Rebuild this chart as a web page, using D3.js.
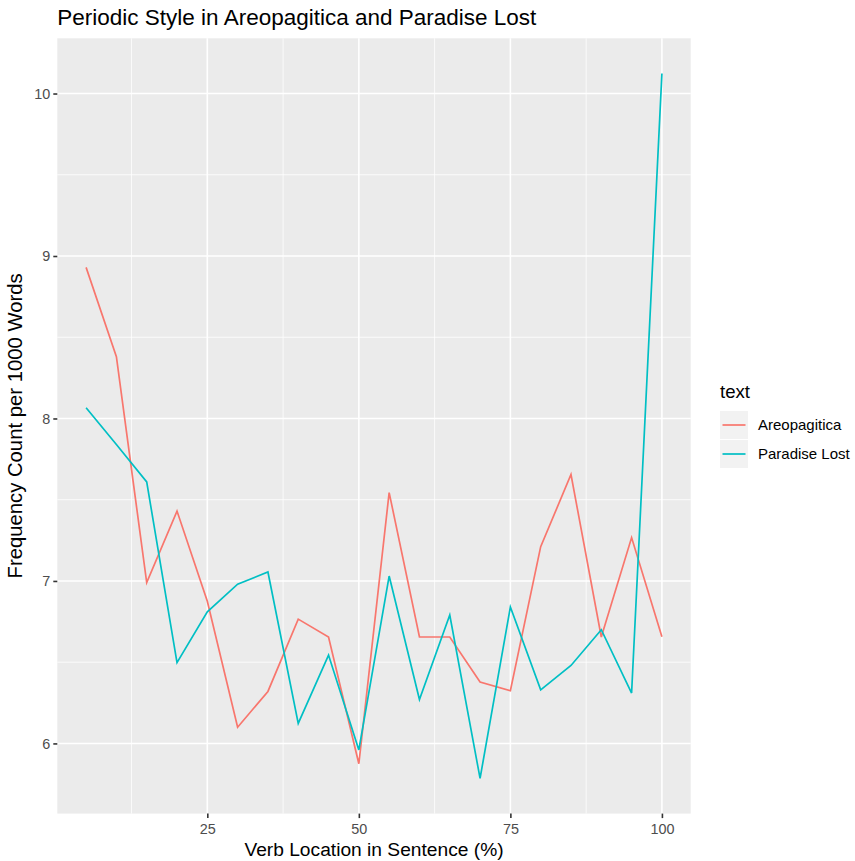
<!DOCTYPE html>
<html>
<head>
<meta charset="utf-8">
<script src="https://cdn.jsdelivr.net/npm/d3@7"></script>
<style>
  body { margin: 0; background: #fff; }
  svg { display: block; font-family: "Liberation Sans", Arial, sans-serif; }
</style>
</head>
<body>
<script>
// Données
const positions = [5, 10, 15, 20, 25, 30, 35, 40, 45, 50, 55, 60, 65, 70, 75, 80, 85, 90, 95, 100];
const areopagitica = [8.93, 8.38, 6.99, 7.43, 6.875, 6.10, 6.32, 6.765, 6.655, 5.875,
                      7.544, 6.655, 6.655, 6.378, 6.324, 7.211, 7.655, 6.655, 7.267, 6.657];
const paradiseLost = [8.066, 7.84, 7.61, 6.497, 6.81, 6.98, 7.055, 6.123, 6.544, 5.96,
                      7.03, 6.27, 6.79, 5.785, 6.84, 6.33, 6.48, 6.70, 6.31, 10.123];
const seriesNames = ['Areopagitica', 'Paradise Lost'];
const xTicks = [25, 50, 75, 100];
const yTicks = [6, 7, 8, 9, 10];

// Paramètres
const width = 855;
const height = 861;
const margin = { top: 38.3, right: 164.3, bottom: 47.4, left: 57.3 };
const colors = ['#F8766D', '#00BFC4'];

const series = seriesNames.map((name, i) => ({
  name,
  color: colors[i],
  values: positions.map((p, j) => ({ x: p, y: [areopagitica, paradiseLost][i][j] }))
}));

// expansion 5% comme ggplot
const expand = (lo, hi) => { const d = (hi - lo) * 0.05; return [lo - d, hi + d]; };
const allY = areopagitica.concat(paradiseLost);

const x = d3.scaleLinear()
  .domain(expand(d3.min(positions), d3.max(positions)))
  .range([margin.left, width - margin.right]);

const y = d3.scaleLinear()
  .domain(expand(d3.min(allY), d3.max(allY)))
  .range([height - margin.bottom, margin.top]);

const svg = d3.select('body')
  .append('svg')
  .attr('width', width)
  .attr('height', height);

// Fond du panneau
svg.append('rect')
  .attr('x', margin.left)
  .attr('y', margin.top)
  .attr('width', width - margin.right - margin.left)
  .attr('height', height - margin.bottom - margin.top)
  .attr('fill', '#EBEBEB');

// Grille mineure
const xMinor = xTicks.map(t => t - 12.5).filter(t => t > x.domain()[0]);
const yMinor = yTicks.map(t => t + 0.5).concat([5.5]).filter(t => t > y.domain()[0] && t < y.domain()[1]);

svg.append('g')
  .selectAll('line')
  .data(xMinor)
  .join('line')
  .attr('x1', d => x(d)).attr('x2', d => x(d))
  .attr('y1', margin.top).attr('y2', height - margin.bottom)
  .attr('stroke', '#fff').attr('stroke-width', 0.8);

svg.append('g')
  .selectAll('line')
  .data(yMinor)
  .join('line')
  .attr('y1', d => y(d)).attr('y2', d => y(d))
  .attr('x1', margin.left).attr('x2', width - margin.right)
  .attr('stroke', '#fff').attr('stroke-width', 0.8);

// Grille majeure
svg.append('g')
  .selectAll('line')
  .data(xTicks)
  .join('line')
  .attr('x1', d => x(d)).attr('x2', d => x(d))
  .attr('y1', margin.top).attr('y2', height - margin.bottom)
  .attr('stroke', '#fff').attr('stroke-width', 1.6);

svg.append('g')
  .selectAll('line')
  .data(yTicks)
  .join('line')
  .attr('y1', d => y(d)).attr('y2', d => y(d))
  .attr('x1', margin.left).attr('x2', width - margin.right)
  .attr('stroke', '#fff').attr('stroke-width', 1.6);

// Lignes
const line = d3.line().x(d => x(d.x)).y(d => y(d.y));

svg.append('g')
  .selectAll('path')
  .data(series)
  .join('path')
  .attr('d', d => line(d.values))
  .attr('fill', 'none')
  .attr('stroke', d => d.color)
  .attr('stroke-width', 1.7);

// Axes
svg.append('g')
  .attr('transform', `translate(0, ${height - margin.bottom})`)
  .call(d3.axisBottom(x).tickValues(xTicks).tickSize(4.5).tickPadding(5.5))
  .call(g => g.select('.domain').remove())
  .call(g => g.selectAll('line').attr('stroke', '#333333').attr('stroke-width', 1.6))
  .call(g => g.selectAll('text').attr('fill', '#4D4D4D').style('font-size', '14.4px'));

svg.append('g')
  .attr('transform', `translate(${margin.left}, 0)`)
  .call(d3.axisLeft(y).tickValues(yTicks).tickFormat(d3.format('d')).tickSize(4).tickPadding(3))
  .call(g => g.select('.domain').remove())
  .call(g => g.selectAll('line').attr('stroke', '#333333').attr('stroke-width', 1.6))
  .call(g => g.selectAll('text').attr('fill', '#4D4D4D').style('font-size', '14.4px'));

// Titres
svg.append('text')
  .attr('x', margin.left)
  .attr('y', 25)
  .style('font-size', '22.5px')
  .attr('fill', '#000')
  .text('Periodic Style in Areopagitica and Paradise Lost');

svg.append('text')
  .attr('x', (margin.left + width - margin.right) / 2)
  .attr('y', 856)
  .attr('text-anchor', 'middle')
  .style('font-size', '19.2px')
  .text('Verb Location in Sentence (%)');

svg.append('text')
  .attr('transform', `translate(22, ${(margin.top + height - margin.bottom) / 2}) rotate(-90)`)
  .attr('text-anchor', 'middle')
  .style('font-size', '20.3px')
  .text('Frequency Count per 1000 Words');

// Légende
const legend = svg.append('g').attr('transform', 'translate(720, 0)');

legend.append('text')
  .attr('x', 0)
  .attr('y', 398)
  .style('font-size', '18.6px')
  .text('text');

const keys = legend.selectAll('g.key')
  .data(series)
  .join('g')
  .attr('class', 'key')
  .attr('transform', (d, i) => `translate(0, ${411 + i * 29})`);

keys.append('rect')
  .attr('width', 28).attr('height', 28)
  .attr('fill', '#F2F2F2');

keys.append('line')
  .attr('x1', 2.5).attr('x2', 25.5)
  .attr('y1', 14).attr('y2', 14)
  .attr('stroke', d => d.color)
  .attr('stroke-width', 1.7);

keys.append('text')
  .attr('x', 38)
  .attr('y', 14)
  .attr('dy', '0.35em')
  .style('font-size', '15px')
  .attr('fill', '#000')
  .text(d => d.name);
</script>
</body>
</html>
